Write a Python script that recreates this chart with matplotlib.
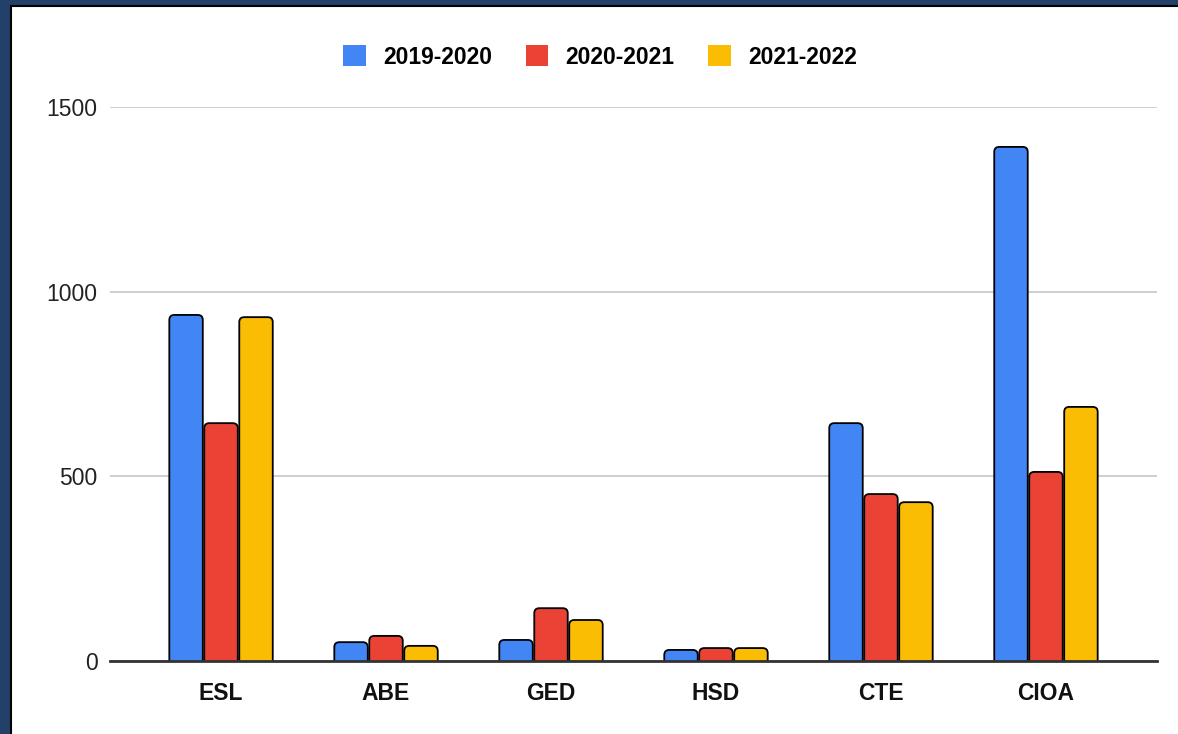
import numpy as np
from matplotlib import pyplot as plt
from matplotlib.patches import FancyBboxPatch, Rectangle, Patch

plt.rcParams["font.family"] = ["Liberation Sans", "DejaVu Sans"]

categories = ["ESL", "ABE", "GED", "HSD", "CTE", "CIOA"]
years = ["2019-2020", "2020-2021", "2021-2022"]
v_2019 = [937, 51, 57, 30, 644, 1392]
v_2020 = [644, 68, 143, 35, 452, 512]
v_2021 = [931, 41, 111, 35, 430, 688]
colors = ["#4285F4", "#EA4335", "#FBBC04"]

W, H = 1178, 734
fig = plt.figure(figsize=(W / 100, H / 100), dpi=100)
fig.patch.set_facecolor("#22406a")
# white panel with black border
fig.patches.append(Rectangle((11 / W, -0.01), 1.0, (H - 6) / H + 0.01,
                             transform=fig.transFigure, facecolor="white",
                             edgecolor="black", linewidth=1.5, zorder=-5))

left, right, bottom, top = 110, 1157, 661, 107
ax = fig.add_axes([left / W, (H - bottom) / H, (right - left) / W, (bottom - top) / H])
ax.set_facecolor("none")
ax.set_zorder(2)

x = np.arange(len(categories))
bw = 0.212
xlim = (-0.673, 5.673)
ylim = (0, 1500)
ax.set_xlim(*xlim)
ax.set_ylim(*ylim)

# px -> data ratios for rounded corners
xpp = (xlim[1] - xlim[0]) / (right - left)
ypp = (ylim[1] - ylim[0]) / (bottom - top)
r = 5 * xpp

for i, (vals, c) in enumerate(zip([v_2019, v_2020, v_2021], colors)):
    bars = ax.bar(x + (i - 1) * bw, vals, width=bw, color=c)
    for b in bars:
        b.set_visible(False)
        bx, bwid, bh = b.get_x(), b.get_width(), b.get_height()
        pad = 10 * ypp
        p = FancyBboxPatch((bx + 0.75 * xpp, -pad), bwid - 1.5 * xpp, bh + pad,
                           boxstyle=f"round,pad=0,rounding_size={r}",
                           mutation_aspect=ypp / xpp,
                           facecolor=c, edgecolor="black", linewidth=1.3, zorder=3)
        ax.add_patch(p)

ax.set_yticks([0, 500, 1000, 1500])
ax.yaxis.grid(True, color="#cccccc", linewidth=1.3)
ax.set_axisbelow(True)
for s in ["top", "right", "left"]:
    ax.spines[s].set_visible(False)
ax.spines["bottom"].set_color("#333333")
ax.spines["bottom"].set_linewidth(2)
ax.spines["bottom"].set_zorder(4)
ax.set_xticks(x)
ax.set_xticklabels(categories, fontsize=16.5, fontweight="bold", color="#111111")
ax.tick_params(axis="x", length=0, pad=15)
ax.tick_params(axis="y", length=0, pad=9, labelsize=16.5, labelcolor="#222222")

handles = [Patch(facecolor=c, edgecolor="none") for c in colors]
fig.legend(handles, years, loc="center", bbox_to_anchor=(600 / W, (H - 57) / H),
           ncol=3, frameon=False, handlelength=1.0, handleheight=1.0,
           handletextpad=0.75, columnspacing=1.45,
           prop={"size": 16.5, "weight": "bold"})

fig.savefig("out.png", dpi=100, facecolor=fig.get_facecolor())
